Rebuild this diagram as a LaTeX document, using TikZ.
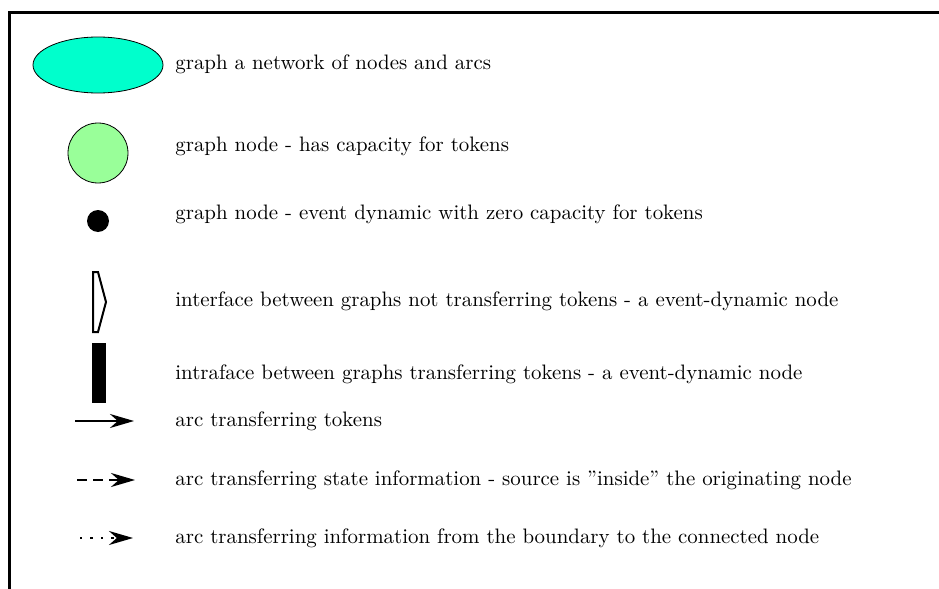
\documentclass[tikz,border=0pt]{standalone}
\usetikzlibrary{arrows.meta,shapes.geometric}
\definecolor{graphcyan}{HTML}{00FFCC}
\definecolor{nodegreen}{HTML}{99FF99}
\tikzset{
  legtext/.style={anchor=west,inner sep=0pt,font=\fontsize{10.45pt}{12.5pt}\selectfont},
  legarc/.style={line width=1.1pt,-{Stealth[length=12pt,width=7pt]}},
}
\begin{document}
\begin{tikzpicture}[x=0.5pt,y=-0.5pt]
  \useasboundingbox (0,0) rectangle (939,589);
  % frame
  \draw[line width=1.5pt] (9,589) -- (9,12) -- (939,12);
  % symbols
  \node[ellipse,draw,fill=graphcyan,minimum width=65pt,minimum height=28pt,inner sep=0pt] (graph) at (98,65) {};
  \node[circle,draw,fill=nodegreen,minimum size=30pt,inner sep=0pt] (gnode) at (98,153) {};
  \node[circle,fill=black,minimum size=11pt,inner sep=0pt] (evnode) at (98,221) {};
  \draw[line width=1pt] (93,272) -- (98,272) -- (106,302) -- (98,332) -- (93,332) -- cycle;
  \fill (92,343) rectangle (106,403);
  \coordinate (tokA) at (75,421);   \coordinate (tokB) at (134,421);
  \coordinate (stateA) at (77,480); \coordinate (stateB) at (135,480);
  \coordinate (bndA) at (80,538);   \coordinate (bndB) at (133,538);
  \draw[legarc] (tokA) -- (tokB);
  \draw[legarc,dash pattern=on 5pt off 3pt] (stateA) -- (stateB);
  \draw[legarc,dash pattern=on 1.2pt off 4pt] (bndA) -- (bndB);
  % texts
  \node[legtext] (tgraph) at (175,64) {graph a network of nodes and arcs};
  \node[legtext] (tgnode) at (175,146) {graph node - has capacity for tokens};
  \node[legtext] (tevnode) at (175,214) {graph node - event dynamic with zero capacity for tokens};
  \node[legtext] (tinter) at (175,301) {interface between graphs not transferring tokens - a event-dynamic node};
  \node[legtext] (tintra) at (175,374) {intraface between graphs transferring tokens - a event-dynamic node};
  \node[legtext] (ttok) at (175,421) {arc transferring tokens};
  \node[legtext] (tstate) at (175,480) {arc transferring state information - source is ''inside'' the originating node};
  \node[legtext] (tbnd) at (175,538) {arc transferring information from the boundary to the connected node};
\end{tikzpicture}
\end{document}
